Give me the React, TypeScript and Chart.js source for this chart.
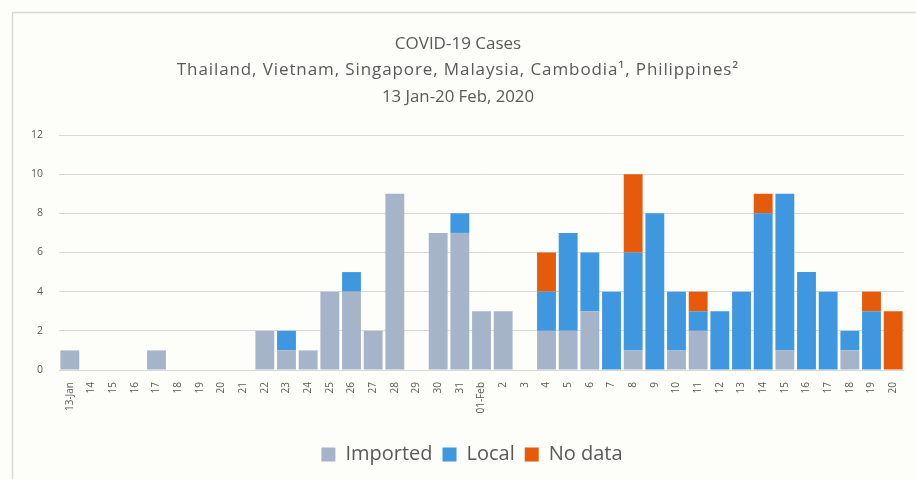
import React, { useEffect, useRef } from "react";
import { Chart, registerables } from "chart.js";

Chart.register(...registerables);

const categories = [
  "13-Jan", "14", "15", "16", "17", "18", "19", "20", "21", "22", "23", "24", "25", "26", "27", "28", "29", "30", "31",
  "01-Feb", "2", "3", "4", "5", "6", "7", "8", "9", "10", "11", "12", "13", "14", "15", "16", "17", "18", "19", "20",
];

const importedCases = [
  1, 0, 0, 0, 1, 0, 0, 0, 0, 2, 1, 1, 4, 4, 2, 9, 0, 7, 7,
  3, 3, 0, 2, 2, 3, 0, 1, 0, 1, 2, 0, 0, 0, 1, 0, 0, 1, 0, 0,
];

const localCases = [
  0, 0, 0, 0, 0, 0, 0, 0, 0, 0, 1, 0, 0, 1, 0, 0, 0, 0, 1,
  0, 0, 0, 2, 5, 3, 4, 5, 8, 3, 1, 3, 4, 8, 8, 5, 4, 1, 3, 0,
];

const noDataCases = [
  0, 0, 0, 0, 0, 0, 0, 0, 0, 0, 0, 0, 0, 0, 0, 0, 0, 0, 0,
  0, 0, 0, 2, 0, 0, 0, 4, 0, 0, 1, 0, 0, 1, 0, 0, 0, 0, 1, 3,
];

const titleLines = [
  "COVID-19 Cases",
  "Thailand, Vietnam, Singapore, Malaysia, Cambodia\u00B9, Philippines\u00B2",
  "13 Jan-20 Feb, 2020",
];
const titleSizes = [17, 17, 16.8];
const titleSpacing = ["0px", "0.9px", "0px"];

const FONT = "'Open Sans', Lato, sans-serif";
const TEXT = "#595959";

const framePlugin = {
  id: "frame",
  beforeDraw(chart: any) {
    const ctx = chart.ctx;
    ctx.save();
    ctx.fillStyle = "#FDFDF9";
    ctx.fillRect(0, 0, chart.width, chart.height);
    ctx.strokeStyle = "#D9D9D6";
    ctx.lineWidth = 1.5;
    ctx.beginPath();
    ctx.moveTo(12.5, chart.height);
    ctx.lineTo(12.5, 12.5);
    ctx.lineTo(chart.width, 12.5);
    ctx.stroke();
    ctx.restore();
  },
  afterDraw(chart: any) {
    const ctx = chart.ctx;
    titleLines.forEach((line, i) => {
      ctx.save();
      ctx.fillStyle = TEXT;
      ctx.textAlign = "center";
      ctx.textBaseline = "middle";
      ctx.font = `${titleSizes[i]}px ${FONT}`;
      try {
        (ctx as any).letterSpacing = titleSpacing[i];
      } catch (e) {}
      ctx.fillText(line, chart.width / 2, 44 + i * 26.5);
      ctx.restore();
    });
  },
  afterLayout(chart: any) {
    const lg = chart.legend;
    if (lg) {
      lg.left += 20;
      lg.right += 20;
    }
  },
};

export default function App() {
  const ref = useRef<HTMLCanvasElement | null>(null);

  useEffect(() => {
    if (!ref.current) return;
    const chart = new Chart(ref.current, {
      type: "bar",
      data: {
        labels: categories,
        datasets: [
          { label: "Imported", data: importedCases, backgroundColor: "#A5B4C9" },
          { label: "Local", data: localCases, backgroundColor: "#3F97E0" },
          { label: "No data", data: noDataCases, backgroundColor: "#E55A0B" },
        ],
      },
      options: {
        responsive: false,
        animation: false,
        layout: { padding: { left: 0, right: 12, top: 135, bottom: 4.5 } },
        datasets: {
          bar: { categoryPercentage: 1, barPercentage: 0.87 },
        },
        plugins: {
          title: { display: false },
          legend: {
            position: "bottom",
            labels: {
              color: TEXT,
              font: { family: FONT, size: 20 },
              boxWidth: 14,
              boxHeight: 14,
              padding: 10,
            },
          },
          tooltip: { enabled: false },
        },
        scales: {
          x: {
            stacked: true,
            grid: { display: false },
            border: { display: false },
            ticks: {
              color: TEXT,
              font: { family: FONT, size: 10 },
              minRotation: 90,
              maxRotation: 90,
              autoSkip: false,
              padding: 4,
            },
            afterFit(scale: any) {
              scale.height = 64.5;
            },
          },
          y: {
            stacked: true,
            min: 0,
            max: 12,
            grid: { color: "#D9D9D9", lineWidth: 1, drawTicks: false },
            border: { display: false },
            ticks: {
              stepSize: 2,
              color: TEXT,
              font: { family: FONT, size: 10.5 },
              padding: 16,
            },
            afterFit(scale: any) {
              scale.width = 59;
            },
          },
        },
      },
      plugins: [framePlugin],
    });
    return () => chart.destroy();
  }, []);

  return (
    <div style={{ position: "fixed", left: 0, top: 0, width: 916, height: 479 }}>
      <canvas ref={ref} width={916} height={479} style={{ display: "block", width: 916, height: 479 }} />
    </div>
  );
}
